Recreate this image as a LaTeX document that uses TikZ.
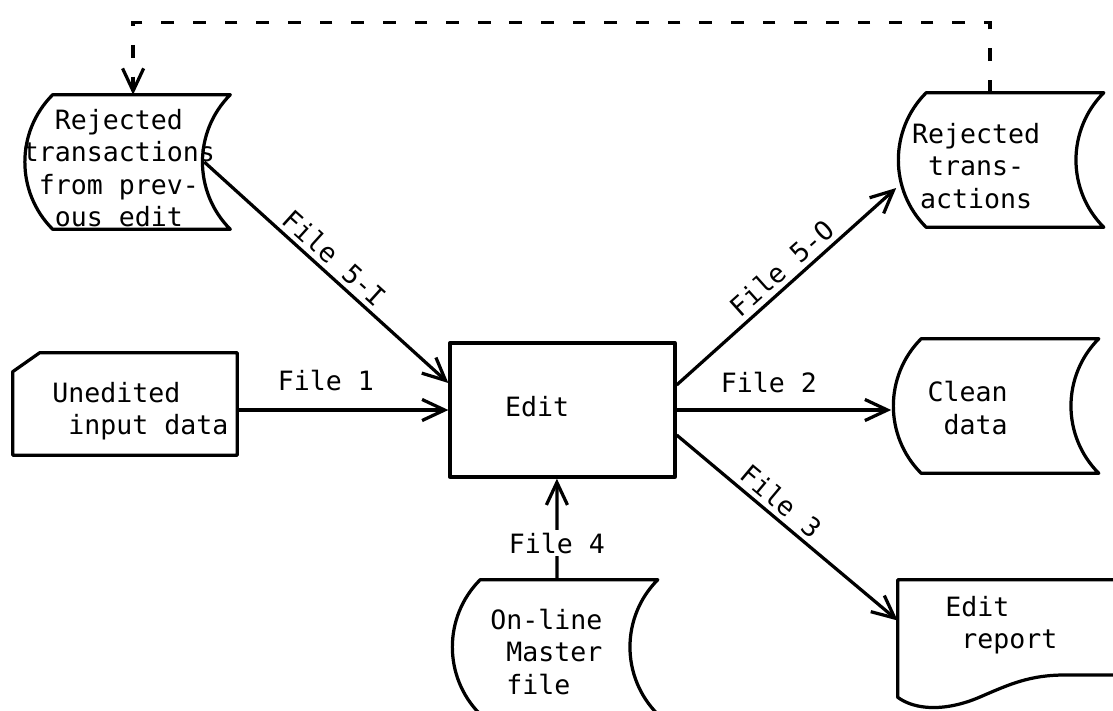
\documentclass[tikz,border=0pt]{standalone}
\usepackage{fontspec}
\setmonofont{DejaVu Sans Mono}
\usetikzlibrary{arrows.meta}

\begin{document}
\begin{tikzpicture}[x=0.025cm,y=-0.025cm,
    every node/.style={font=\ttfamily\fontsize{18.9pt}{23pt}\selectfont},
    outline/.style={line width=2.3pt,line join=round},
    drum/.style={minimum width=\drumwidth cm,minimum height=\drumheight cm,inner sep=0pt},
    words/.style={inner sep=0pt},
    flow/.style={line width=2.3pt,-{Straight Barb[length=16pt,width=15pt]}},
    loopback/.style={flow,dash pattern=on 9pt off 13.5pt},
    filelabel/.style={sloped,above}]
    \pgfmathsetmacro{\drumwidth}{4.425}
    \pgfmathsetmacro{\drumheight}{3.35}
    % stored data: bulging left side, hollow right side
    \providecommand{\drumoutline}[1]{%
        \draw[outline] (#1.north west) -- (#1.north east) to[bend right=45] (#1.south east)
            -- (#1.south west) to[bend left=45] (#1.north west) -- cycle;}
    \useasboundingbox (0,0) rectangle (1113,711);

    % the files
    \node[drum] (rejin) at (141.5,162) {};
    \node[drum] (rejout) at (1015,160) {};
    \node[drum] (clean) at (1010,406) {};
    \node[drum] (master) at (569,647) {};
    \drumoutline{rejin}
    \drumoutline{rejout}
    \drumoutline{clean}
    \drumoutline{master}
    \node[minimum width=5.6cm,minimum height=2.55cm,inner sep=0pt] (unedited) at (125,404) {};
    \draw[outline] ([xshift=0.675cm]unedited.north west) -- (unedited.north east) -- (unedited.south east)
        -- (unedited.south west) -- ([yshift=-0.475cm]unedited.north west) -- cycle;
    \node[draw,outline,minimum width=5.625cm,minimum height=3.35cm,inner sep=0pt] (edit) at (562.5,410) {};
    \node[minimum width=5.5cm,minimum height=2.925cm,inner sep=0pt] (report) at (1008,638.5) {};
    \draw[outline] (report.north east) -- (report.north west) -- (report.south west)
        .. controls (915,710) and (945,712) .. (980,697)
        .. controls (1010,684) and (1030,675) .. (1065,675) -- (1118,675);

    % texts
    \node[words,align=center] (rejin-text) at (119,168) {Rejected\\transactions\\from prev-\\ous edit};
    \node[words,align=center] (rejout-text) at (976,166) {Rejected\\trans-\\actions};
    \node[words,align=left,anchor=west] (unedited-text) at (52,411) {Unedited\\\ input data};
    \node[words] (edit-text) at (537,407) {Edit};
    \node[words,align=right,anchor=east] (clean-text) at (1008,408) {Clean\\data};
    \node[words,align=left,anchor=west] (master-text) at (490,652) {On-line\\\ Master\\\ file};
    \node[words,align=left,anchor=west] (report-text) at (945,625) {Edit\\\ report};

    % flows in and out of the edit
    \coordinate (rejin-notch) at ([xshift=-0.65cm]rejin.east);
    \coordinate (rejout-bulge) at ([xshift=-0.75cm,yshift=-0.7cm]rejout.west);
    \coordinate (clean-bulge) at ([xshift=-0.75cm]clean.west);
    \draw[flow] (rejin-notch) -- node[filelabel,pos=.49] (lbl-5i) {File 5-I} ([yshift=0.675cm]edit.west);
    \draw[flow] (unedited.east |- edit.west) -- node[pos=.42,above=9pt] (lbl-1) {File 1} (edit.west);
    \draw[flow] ([xshift=-0.3cm]master.north) -- node[pos=.36,fill=white,inner sep=2pt] (lbl-4) {File 4} ([xshift=-0.14cm]edit.south);
    \draw[flow] ([yshift=0.625cm]edit.east) -- node[filelabel,pos=.53] (lbl-5o) {File 5-O} (rejout-bulge);
    \draw[flow] (edit.east) -- node[pos=.43,above=8pt] (lbl-2) {File 2} (edit.east -| clean-bulge);
    \draw[flow] ([yshift=-0.625cm]edit.east) -- node[filelabel,pos=.425] (lbl-3) {File 3} ([yshift=0.45cm]report.west);

    % rejects go back round to the next edit
    \draw[loopback] ([xshift=-0.625cm]rejout.north) -- ++(0,1.75cm) -| ([xshift=-0.21cm]rejin.north);
\end{tikzpicture}
\end{document}
